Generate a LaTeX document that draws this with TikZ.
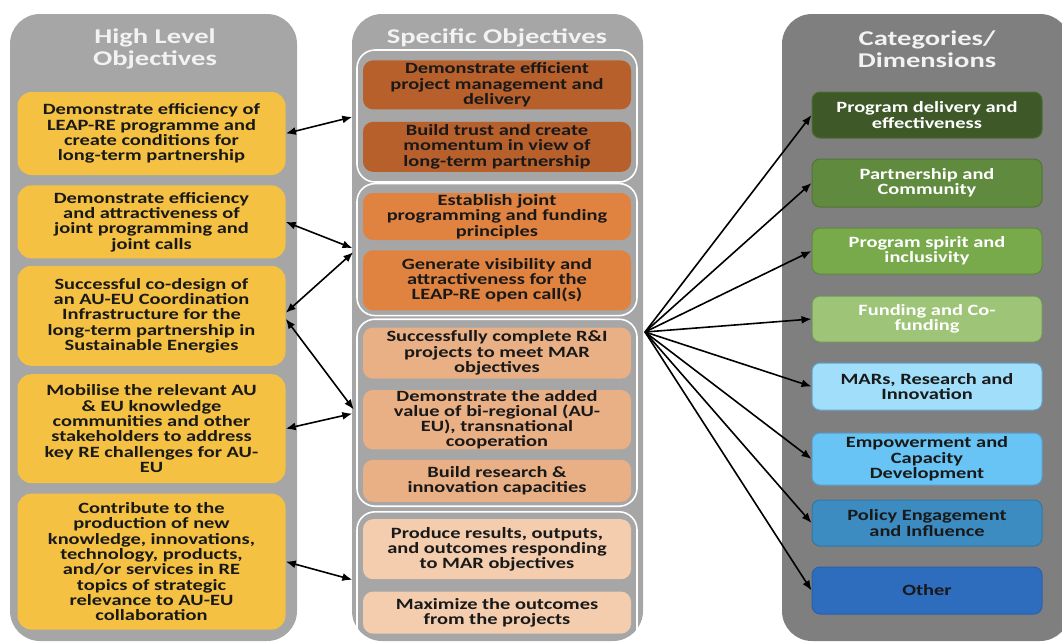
\documentclass[tikz,border=0pt]{standalone}
\usepackage{fontspec}
\setmainfont[FakeStretch=1.3]{Carlito}
\newfontfamily\titlefont[FakeStretch=1.36]{Carlito}
\usetikzlibrary{positioning,arrows.meta}

\definecolor{lightpanel}{RGB}{166,166,166}
\definecolor{darkpanel}{RGB}{127,127,127}
\definecolor{hlyellow}{RGB}{244,193,66}
\definecolor{specA}{RGB}{183,96,43}
\definecolor{specB}{RGB}{224,131,65}
\definecolor{specC}{RGB}{233,176,133}
\definecolor{specD}{RGB}{243,205,174}
\definecolor{catA}{RGB}{62,88,40}
\definecolor{catB}{RGB}{96,138,62}
\definecolor{catC}{RGB}{120,170,76}
\definecolor{catD}{RGB}{158,196,120}
\definecolor{catE}{RGB}{160,222,250}
\definecolor{catF}{RGB}{104,196,244}
\definecolor{catG}{RGB}{60,140,194}
\definecolor{catH}{RGB}{46,108,190}

\tikzset{%
  % Specifications for style of nodes:
       base/.style =  { rectangle, align=center, inner xsep=2pt, inner ysep=0pt, text=black!90,
                        font=\fontsize{15.7}{15.3}\selectfont\bfseries },
      panel/.style =  { rectangle, rounded corners=30pt, minimum height=627pt },
      title/.style =  { align=center, text=white!95!black, font=\titlefont\fontsize{21}{22}\selectfont\bfseries },
       high/.style =  { base, fill=hlyellow, rounded corners=14pt, minimum width=268pt },
       spec/.style =  { base, rounded corners=10pt, minimum width=268pt },
      group/.style =  { rectangle, draw=white, line width=1.6pt, rounded corners=18pt, minimum width=280pt },
        cat/.style =  { base, rounded corners=8pt, line width=1pt, minimum width=230pt, minimum height=46pt },
       link/.style =  { {Latex[length=10pt,width=8pt]}-{Latex[length=10pt,width=8pt]}, line width=1.6pt, shorten >=4pt },
       feed/.style =  { -{Latex[length=10pt,width=8pt]}, line width=1.6pt },
}

\begin{document}
\begin{tikzpicture}[x=1pt, y=-1pt, node distance=10pt]
    \useasboundingbox (0,0) rectangle (1062,643);

    % Draw panels and titles
    \node (hlpanel)   [panel, fill=lightpanel, minimum width=287pt] at (153.5,327.5) {};
    \node (sppanel)   [panel, fill=lightpanel, minimum width=291pt] at (497.5,327.5) {};
    \node (catpanel)  [panel, fill=darkpanel,  minimum width=288pt] at (926,327.5)   {};
    \node (hltitle)   [title] at (155,49)  {High Level\\Objectives};
    \node (sptitle)   [title] at (497,38)  {Specific Objectives};
    \node (cattitle)  [title] at (927,49)  {Categories/\\Dimensions};

    % Draw high level objectives
    \node (l1) [high, minimum height=83pt] at (151.5,133.5)
        {Demonstrate efficiency of\\LEAP-RE programme and\\create conditions for\\long-term partnership};
    \node (l2) [high, minimum height=73pt, below=10pt of l1]
        {Demonstrate efficiency\\and attractiveness of\\joint programming and\\joint calls};
    \node (l3) [high, minimum height=100pt, below=7pt of l2]
        {Successful co-design of\\an AU-EU Coordination\\Infrastructure for the\\long-term partnership in\\Sustainable Energies};
    \node (l4) [high, minimum height=109pt, below=8pt of l3]
        {Mobilise the relevant AU\\\& EU knowledge\\communities and other\\stakeholders to address\\key RE challenges for AU-\\EU};
    \node (l5) [high, minimum height=136pt, below=10pt of l4]
        {Contribute to the\\production of new\\knowledge, innovations,\\technology, products,\\and/or services in RE\\topics of strategic\\relevance to AU-EU\\collaboration};

    % Draw specific objectives
    \node (g1) [group, minimum height=132pt] at (497,116) {};
    \node (g2) [group, minimum height=132pt, below=0pt of g1] {};
    \node (g3) [group, minimum height=187pt, below=2pt of g2] {};
    \node (g4) [group, minimum height=138pt, below=4pt of g3] {};

    \node (s1a) [spec, fill=specA, minimum height=49pt, below=11pt of g1.north]
        {Demonstrate efficient\\project management and\\delivery};
    \node (s1b) [spec, fill=specA, minimum height=50pt, below=12pt of s1a]
        {Build trust and create\\momentum in view of\\long-term partnership};
    \node (s2a) [spec, fill=specB, minimum height=47pt, below=10pt of g2.north]
        {Establish joint\\programming and funding\\principles};
    \node (s2b) [spec, fill=specB, minimum height=60pt, below=10pt of s2a]
        {Generate visibility and\\attractiveness for the\\LEAP-RE open call(s)};
    \node (s3a) [spec, fill=specC, minimum height=51pt, below=9pt of g3.north]
        {Successfully complete R\&I\\projects to meet MAR\\objectives};
    \node (s3b) [spec, fill=specC, minimum height=58pt, below=11pt of s3a]
        {Demonstrate the added\\value of bi-regional (AU-\\EU), transnational\\cooperation};
    \node (s3c) [spec, fill=specC, minimum height=42pt, below=10pt of s3b]
        {Build research \&\\innovation capacities};
    \node (s4a) [spec, fill=specD, minimum height=60pt, below=8pt of g4.north]
        {Produce results, outputs,\\and outcomes responding\\to MAR objectives};
    \node (s4b) [spec, fill=specD, minimum height=42pt, below=12pt of s4a]
        {Maximize the outcomes\\from the projects};

    % Draw categories
    \node (r1) [cat, fill=catA, draw=catB!80!black, text=white] at (927,115)
        {Program delivery and\\effectiveness};
    \node (r2) [cat, fill=catB, draw=catB!85!black, text=white, minimum height=48pt, below=20pt of r1]
        {Partnership and\\Community};
    \node (r3) [cat, fill=catC, draw=catC!80!black, text=white, below=20pt of r2]
        {Program spirit and\\inclusivity};
    \node (r4) [cat, fill=catD, draw=catD!75!black, text=white, below=21pt of r3]
        {Funding and Co-\\funding};
    \node (r5) [cat, fill=catE, draw=catG!80!white, minimum height=47pt, below=20pt of r4]
        {MARs, Research and\\Innovation};
    \node (r6) [cat, fill=catF, draw=catG!85!white, minimum height=52pt, below=22pt of r5]
        {Empowerment and\\Capacity\\Development};
    \node (r7) [cat, fill=catG, draw=catG!85!black, below=14pt of r6]
        {Policy Engagement\\and Influence};
    \node (r8) [cat, fill=catH, draw=catH!90!black, minimum height=47pt, below=20pt of r7]
        {Other};

    % Draw arrows
    \draw[link]   (l1.east) -- (g1.west);
    \draw[link]   (l2.east) -- (g2.west);
    \draw[link]   ([yshift=3pt]l3.east) -- (g2.west);
    \draw[link]   ([yshift=-3pt]l3.east) -- (g3.west);
    \draw[link]   (l4.east) -- (g3.west);
    \draw[link]   (l5.east) -- (g4.west);

    \coordinate (hub) at (645,332);
    \foreach \c in {r1,r2,r3,r4,r5,r6,r7,r8}
        \draw[feed]   (hub) -- (\c.west);
\end{tikzpicture}
\end{document}
